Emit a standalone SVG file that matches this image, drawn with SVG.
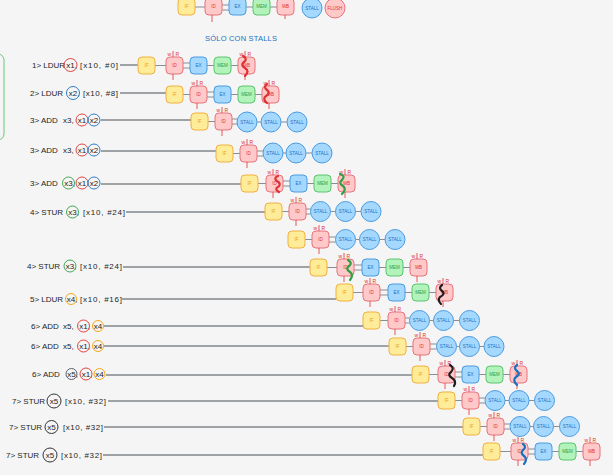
<svg xmlns="http://www.w3.org/2000/svg" width="613" height="475" viewBox="0 0 613 475">
<style>
.bg{fill:#f5f5f5}
.if{fill:#ffec99;stroke:#f2b040;stroke-width:1}
.id{fill:#ffc9c9;stroke:#e8737b;stroke-width:1}
.ex{fill:#a5d8ff;stroke:#4a9be0;stroke-width:1}
.mem{fill:#b2f2bb;stroke:#5cc46e;stroke-width:1}
.st{fill:#a5d8ff;stroke:#4a9be0;stroke-width:1}
.fl{fill:#ffc9c9;stroke:#e8737b;stroke-width:1}
.t{font-family:"Liberation Sans",Arial,sans-serif;font-size:4.5px;text-anchor:middle}
.ti{fill:#e8a020}.tr{fill:#e03131}.tb{fill:#1971c2}.tg{fill:#2f9e44}
.lab{font-family:"Liberation Sans",Arial,sans-serif;font-size:8px;fill:#1e1e1e}
.wr{font-family:"Liberation Sans",Arial,sans-serif;font-size:5px;fill:#e03131}
.tick{stroke:#e03131;stroke-width:0.8}
.c{stroke:#868e96;stroke-width:1;fill:none}
.ll{stroke:#495057;stroke-width:1}
.sq{fill:none;stroke-width:2.2;stroke-linecap:round;stroke-linejoin:round}
.rc{fill:none;stroke-width:0.9}
.title{font-family:"Liberation Sans",Arial,sans-serif;font-size:7.5px;fill:#1971c2}
</style>
<rect class="bg" x="0" y="0" width="613" height="475"/>
<rect x="-20" y="54" width="24" height="86" rx="6" fill="none" stroke="#69c77a" stroke-width="1"/>

<g id="connectors">
<!-- legend -->
<line class="c" x1="195" y1="7" x2="205" y2="7"/>
<line class="c" x1="222" y1="5" x2="229" y2="5"/><line class="c" x1="222" y1="10" x2="229" y2="10"/>
<line class="c" x1="246" y1="7" x2="253" y2="7"/>
<line class="c" x1="270" y1="7" x2="277" y2="7"/>
<!-- row1 -->
<line class="ll" x1="120" y1="65" x2="138" y2="65"/>
<line class="c" x1="155" y1="65.5" x2="166" y2="65.5"/>
<line class="c" x1="183" y1="63" x2="190" y2="63"/><line class="c" x1="183" y1="68" x2="190" y2="68"/>
<line class="c" x1="207" y1="65.5" x2="214" y2="65.5"/>
<line class="c" x1="231" y1="65.5" x2="238" y2="65.5"/>
<!-- row2 -->
<line class="ll" x1="120" y1="93" x2="166" y2="93"/>
<line class="c" x1="183" y1="94.5" x2="190" y2="94.5"/>
<line class="c" x1="207" y1="92" x2="214" y2="92"/><line class="c" x1="207" y1="97" x2="214" y2="97"/>
<line class="c" x1="231" y1="94.5" x2="238" y2="94.5"/>
<line class="c" x1="255" y1="94.5" x2="262" y2="94.5"/>
<!-- row3 -->
<line class="ll" x1="101" y1="120" x2="191" y2="120"/>
<line class="c" x1="208" y1="121.5" x2="215" y2="121.5"/>
<line class="c" x1="232" y1="119" x2="237" y2="119"/><line class="c" x1="232" y1="124" x2="237" y2="124"/>
<line class="c" x1="257" y1="122" x2="261" y2="122"/>
<line class="c" x1="281" y1="122" x2="287" y2="122"/>
<!-- row4 -->
<line class="ll" x1="101" y1="151" x2="216" y2="151"/>
<line class="c" x1="233" y1="153.5" x2="240" y2="153.5"/>
<line class="c" x1="257" y1="151" x2="263" y2="151"/><line class="c" x1="257" y1="156" x2="263" y2="156"/>
<line class="c" x1="283" y1="153" x2="286" y2="153"/>
<line class="c" x1="306" y1="153" x2="312" y2="153"/>
<!-- row5 -->
<line class="ll" x1="101" y1="184" x2="241" y2="184"/>
<line class="c" x1="258" y1="183.5" x2="266" y2="183.5"/>
<line class="c" x1="283" y1="181" x2="290" y2="181"/><line class="c" x1="283" y1="186" x2="290" y2="186"/>
<line class="c" x1="307" y1="183.5" x2="314" y2="183.5"/>
<line class="c" x1="331" y1="183.5" x2="338" y2="183.5"/>
<!-- row6 -->
<line class="ll" x1="126" y1="212" x2="265" y2="212"/>
<line class="c" x1="282" y1="211.5" x2="289" y2="211.5"/>
<line class="c" x1="306" y1="209" x2="310.5" y2="209"/><line class="c" x1="306" y1="214" x2="310.5" y2="214"/>
<line class="c" x1="330.5" y1="211.5" x2="335.5" y2="211.5"/>
<line class="c" x1="355.5" y1="211.5" x2="361" y2="211.5"/>
<!-- row7 -->
<line class="c" x1="305" y1="239.5" x2="312" y2="239.5"/>
<line class="c" x1="329" y1="237" x2="335.5" y2="237"/><line class="c" x1="329" y1="242" x2="335.5" y2="242"/>
<line class="c" x1="355.5" y1="239.5" x2="359.5" y2="239.5"/>
<line class="c" x1="379.5" y1="239.5" x2="385" y2="239.5"/>
<!-- row8 -->
<line class="ll" x1="123" y1="267" x2="310" y2="267"/>
<line class="c" x1="327" y1="267.5" x2="337" y2="267.5"/>
<line class="c" x1="354" y1="265" x2="362" y2="265"/><line class="c" x1="354" y1="270" x2="362" y2="270"/>
<line class="c" x1="379" y1="267.5" x2="386" y2="267.5"/>
<line class="c" x1="403" y1="267.5" x2="410" y2="267.5"/>
<!-- row9 -->
<line class="ll" x1="122" y1="299" x2="336" y2="299"/>
<line class="c" x1="353" y1="292.5" x2="363" y2="292.5"/>
<line class="c" x1="380" y1="290" x2="388" y2="290"/><line class="c" x1="380" y1="295" x2="388" y2="295"/>
<line class="c" x1="405" y1="292.5" x2="412" y2="292.5"/>
<line class="c" x1="429" y1="292.5" x2="436" y2="292.5"/>
<!-- row10 -->
<line class="ll" x1="104" y1="326" x2="363" y2="326"/>
<line class="c" x1="380" y1="320.5" x2="388" y2="320.5"/>
<line class="c" x1="405" y1="318" x2="409.5" y2="318"/><line class="c" x1="405" y1="323" x2="409.5" y2="323"/>
<line class="c" x1="429.5" y1="320.5" x2="433.5" y2="320.5"/>
<line class="c" x1="453.5" y1="320.5" x2="459.5" y2="320.5"/>
<!-- row11 -->
<line class="ll" x1="104" y1="346" x2="389" y2="346"/>
<line class="c" x1="406" y1="346.5" x2="413" y2="346.5"/>
<line class="c" x1="430" y1="344" x2="436.5" y2="344"/><line class="c" x1="430" y1="349" x2="436.5" y2="349"/>
<line class="c" x1="456.5" y1="346.5" x2="459.5" y2="346.5"/>
<line class="c" x1="479.5" y1="346.5" x2="484" y2="346.5"/>
<!-- row12 -->
<line class="ll" x1="106" y1="375" x2="412" y2="375"/>
<line class="c" x1="429" y1="374.5" x2="438" y2="374.5"/>
<line class="c" x1="455" y1="372" x2="462" y2="372"/><line class="c" x1="455" y1="377" x2="462" y2="377"/>
<line class="c" x1="479" y1="374.5" x2="486" y2="374.5"/>
<line class="c" x1="503" y1="374.5" x2="510" y2="374.5"/>
<!-- row13 -->
<line class="ll" x1="108" y1="401" x2="438" y2="401"/>
<line class="c" x1="455" y1="400.5" x2="462" y2="400.5"/>
<line class="c" x1="479" y1="398" x2="485" y2="398"/><line class="c" x1="479" y1="403" x2="485" y2="403"/>
<line class="c" x1="505" y1="400.5" x2="509" y2="400.5"/>
<line class="c" x1="529" y1="400.5" x2="534.5" y2="400.5"/>
<!-- row14 -->
<line class="ll" x1="104" y1="427" x2="463" y2="427"/>
<line class="c" x1="480" y1="426.5" x2="487" y2="426.5"/>
<line class="c" x1="504" y1="424" x2="510" y2="424"/><line class="c" x1="504" y1="429" x2="510" y2="429"/>
<line class="c" x1="530" y1="426.5" x2="533.5" y2="426.5"/>
<line class="c" x1="553.5" y1="426.5" x2="559.5" y2="426.5"/>
<!-- row15 -->
<line class="ll" x1="103" y1="455" x2="483" y2="455"/>
<line class="c" x1="500" y1="451.5" x2="511" y2="451.5"/>
<line class="c" x1="528" y1="449" x2="535" y2="449"/><line class="c" x1="528" y1="454" x2="535" y2="454"/>
<line class="c" x1="552" y1="451.5" x2="559" y2="451.5"/>
<line class="c" x1="576" y1="451.5" x2="583" y2="451.5"/>
</g>

<!-- legend -->
<g id="legend-if"><rect class="if" x="178" y="-2" width="17" height="17" rx="4"/><text class="t ti" x="186.5" y="8">IF</text></g>
<g id="legend-id"><rect class="id" x="205" y="-2" width="17" height="17" rx="4"/><text class="t tr" x="213.5" y="8">ID</text><line class="tick" x1="212" y1="15" x2="212" y2="22"/></g>
<g id="legend-ex"><rect class="ex" x="229" y="-2" width="17" height="17" rx="4"/><text class="t tb" x="237.5" y="8">EX</text></g>
<g id="legend-mem"><rect class="mem" x="253" y="-2" width="17" height="17" rx="4"/><text class="t tg" x="261.5" y="8">MEM</text></g>
<g id="legend-wb"><rect class="id" x="277" y="-2" width="17" height="17" rx="4"/><text class="t tr" x="285.5" y="8">WB</text><line class="tick" x1="285" y1="15" x2="285" y2="19"/></g>
<g id="legend-stall"><circle class="st" cx="312" cy="8" r="10"/><text class="t tb" x="312" y="9.5">STALL</text></g>
<g id="legend-flush"><circle class="fl" cx="335" cy="8" r="10"/><text class="t tr" x="335" y="9.5">FLUSH</text></g>
<text class="title" x="205" y="41" textLength="72" lengthAdjust="spacing">SÓLO CON STALLS</text>

<!-- labels -->
<g id="label-1"><text class="lab" x="32" y="68">1&gt; LDUR</text><text class="lab" x="66.3" y="68">x1,</text><text class="lab" x="80" y="68" textLength="38" lengthAdjust="spacing">[x10, #0]</text><circle class="rc" stroke="#e03131" cx="70.5" cy="65" r="6.5"/></g>
<g id="label-2"><text class="lab" x="30" y="96">2&gt; LDUR</text><text class="lab" x="68.8" y="96">x2,</text><text class="lab" x="83" y="96" textLength="35" lengthAdjust="spacing">[x10, #8]</text><circle class="rc" stroke="#1971c2" cx="73" cy="93" r="6.5"/></g>
<g id="label-3"><text class="lab" x="30" y="123">3&gt; ADD</text><text class="lab" x="63" y="123">x3,</text><text class="lab" x="77.8" y="123">x1</text><text class="lab" x="89.8" y="123">x2</text><circle class="rc" stroke="#e03131" cx="82" cy="120" r="6"/><circle class="rc" stroke="#1971c2" cx="94" cy="120" r="6"/></g>
<g id="label-4"><text class="lab" x="30" y="153">3&gt; ADD</text><text class="lab" x="63" y="153">x3,</text><text class="lab" x="77.8" y="153">x1</text><text class="lab" x="89.8" y="153">x2</text><circle class="rc" stroke="#e03131" cx="82" cy="150" r="6"/><circle class="rc" stroke="#1971c2" cx="94" cy="150" r="6"/></g>
<g id="label-5"><text class="lab" x="30" y="186">3&gt; ADD</text><text class="lab" x="64.3" y="186">x3,</text><text class="lab" x="77.8" y="186">x1</text><text class="lab" x="89.8" y="186">x2</text><circle class="rc" stroke="#2f9e44" cx="68.5" cy="183" r="6"/><circle class="rc" stroke="#e03131" cx="82" cy="183" r="6"/><circle class="rc" stroke="#1971c2" cx="94" cy="183" r="6"/></g>
<g id="label-6"><text class="lab" x="30" y="215">4&gt; STUR</text><text class="lab" x="68.3" y="215">x3,</text><text class="lab" x="83" y="215" textLength="42" lengthAdjust="spacing">[x10, #24]</text><circle class="rc" stroke="#2f9e44" cx="72.5" cy="212" r="6"/></g>
<g id="label-8"><text class="lab" x="27" y="269">4&gt; STUR</text><text class="lab" x="65.8" y="269">x3,</text><text class="lab" x="80" y="269" textLength="42" lengthAdjust="spacing">[x10, #24]</text><circle class="rc" stroke="#2f9e44" cx="70" cy="266" r="6"/></g>
<g id="label-9"><text class="lab" x="30" y="302">5&gt; LDUR</text><text class="lab" x="66.8" y="302">x4,</text><text class="lab" x="80" y="302" textLength="42" lengthAdjust="spacing">[x10, #16]</text><circle class="rc" stroke="#f59f00" cx="71" cy="299" r="5.5"/></g>
<g id="label-10"><text class="lab" x="31" y="329">6&gt; ADD</text><text class="lab" x="63" y="329">x5,</text><text class="lab" x="79.3" y="329">x1,</text><text class="lab" x="93.8" y="329">x4</text><circle class="rc" stroke="#e03131" cx="83.5" cy="326" r="6"/><circle class="rc" stroke="#f59f00" cx="98" cy="326" r="5.5"/></g>
<g id="label-11"><text class="lab" x="31" y="349">6&gt; ADD</text><text class="lab" x="63" y="349">x5,</text><text class="lab" x="79.3" y="349">x1,</text><text class="lab" x="93.8" y="349">x4</text><circle class="rc" stroke="#e03131" cx="83.5" cy="346" r="6"/><circle class="rc" stroke="#f59f00" cx="98" cy="346" r="5.5"/></g>
<g id="label-12"><text class="lab" x="32" y="377">6&gt; ADD</text><text class="lab" x="67.3" y="377">x5,</text><text class="lab" x="81.8" y="377">x1,</text><text class="lab" x="95.3" y="377">x4</text><circle class="rc" stroke="#495057" cx="71.5" cy="374" r="5.5"/><circle class="rc" stroke="#e03131" cx="86" cy="374" r="6"/><circle class="rc" stroke="#f59f00" cx="99.5" cy="374" r="5.5"/></g>
<g id="label-13"><text class="lab" x="12" y="404">7&gt; STUR</text><text class="lab" x="49.8" y="404">x5</text><text class="lab" x="65" y="404" textLength="41" lengthAdjust="spacing">[x10, #32]</text><circle class="rc" stroke="#1e1e1e" cx="54" cy="401" r="7"/></g>
<g id="label-14"><text class="lab" x="9" y="430">7&gt; STUR</text><text class="lab" x="47.3" y="430">x5</text><text class="lab" x="63" y="430" textLength="40" lengthAdjust="spacing">[x10, #32]</text><circle class="rc" stroke="#1e1e1e" cx="51.5" cy="427" r="6.5"/></g>
<g id="label-15"><text class="lab" x="6" y="458">7&gt; STUR</text><text class="lab" x="45.8" y="458">x5</text><text class="lab" x="61" y="458" textLength="41" lengthAdjust="spacing">[x10, #32]</text><circle class="rc" stroke="#1e1e1e" cx="50" cy="455" r="7"/></g>

<!-- row 1 -->
<g id="r1-if"><rect class="if" x="138" y="57" width="17" height="17" rx="4"/><text class="t ti" x="146.5" y="67">IF</text></g>
<g id="r1-id"><rect class="id" x="166" y="57" width="17" height="17" rx="4"/><text class="t tr" x="174.5" y="67">ID</text><line class="tick" x1="173" y1="51" x2="173" y2="57"/><line class="tick" x1="173" y1="74" x2="173" y2="80"/><text class="wr" x="167.5" y="55.5">w</text><text class="wr" x="175.5" y="55.5">R</text></g>
<g id="r1-ex"><rect class="ex" x="190" y="57" width="17" height="17" rx="4"/><text class="t tb" x="198.5" y="67">EX</text></g>
<g id="r1-mem"><rect class="mem" x="214" y="57" width="17" height="17" rx="4"/><text class="t tg" x="222.5" y="67">MEM</text></g>
<g id="r1-wb"><rect class="id" x="238" y="57" width="17" height="17" rx="4"/><text class="t tr" x="246.5" y="67">WB</text><line class="tick" x1="245" y1="51" x2="245" y2="57"/><line class="tick" x1="245" y1="74" x2="245" y2="80"/><text class="wr" x="239.5" y="55.5">w</text><text class="wr" x="247.5" y="55.5">R</text><path class="sq" stroke="#e03131" d="M243,56 q5,3 1,6 q-4,3 1,6 q5,3 0,8"/></g>

<!-- row 2 -->
<g id="r2-if"><rect class="if" x="166" y="86" width="17" height="17" rx="4"/><text class="t ti" x="174.5" y="96">IF</text></g>
<g id="r2-id"><rect class="id" x="190" y="86" width="17" height="17" rx="4"/><text class="t tr" x="198.5" y="96">ID</text><line class="tick" x1="197" y1="80" x2="197" y2="86"/><line class="tick" x1="197" y1="103" x2="197" y2="109"/><text class="wr" x="191.5" y="84.5">w</text><text class="wr" x="199.5" y="84.5">R</text></g>
<g id="r2-ex"><rect class="ex" x="214" y="86" width="17" height="17" rx="4"/><text class="t tb" x="222.5" y="96">EX</text></g>
<g id="r2-mem"><rect class="mem" x="238" y="86" width="17" height="17" rx="4"/><text class="t tg" x="246.5" y="96">MEM</text></g>
<g id="r2-wb"><rect class="id" x="262" y="86" width="17" height="17" rx="4"/><text class="t tr" x="270.5" y="96">WB</text><line class="tick" x1="269" y1="80" x2="269" y2="86"/><line class="tick" x1="269" y1="103" x2="269" y2="109"/><text class="wr" x="263.5" y="84.5">w</text><text class="wr" x="271.5" y="84.5">R</text><path class="sq" stroke="#e03131" d="M267,84 q-4,3 0,6 q4,3 -1,6 q-4,3 1,7"/></g>

<!-- row 3 -->
<g id="r3-if"><rect class="if" x="191" y="113" width="17" height="17" rx="4"/><text class="t ti" x="199.5" y="123">IF</text></g>
<g id="r3-id"><rect class="id" x="215" y="113" width="17" height="17" rx="4"/><text class="t tr" x="223.5" y="123">ID</text><line class="tick" x1="222" y1="107" x2="222" y2="113"/><line class="tick" x1="222" y1="130" x2="222" y2="136"/><text class="wr" x="216.5" y="111.5">w</text><text class="wr" x="224.5" y="111.5">R</text></g>
<g id="r3-s1"><circle class="st" cx="247" cy="122" r="10"/><text class="t tb" x="247" y="123.5">STALL</text></g>
<g id="r3-s2"><circle class="st" cx="271" cy="122" r="10"/><text class="t tb" x="271" y="123.5">STALL</text></g>
<g id="r3-s3"><circle class="st" cx="297" cy="122" r="10"/><text class="t tb" x="297" y="123.5">STALL</text></g>

<!-- row 4 -->
<g id="r4-if"><rect class="if" x="216" y="145" width="17" height="17" rx="4"/><text class="t ti" x="224.5" y="155">IF</text></g>
<g id="r4-id"><rect class="id" x="240" y="145" width="17" height="17" rx="4"/><text class="t tr" x="248.5" y="155">ID</text><line class="tick" x1="247" y1="139" x2="247" y2="145"/><line class="tick" x1="247" y1="162" x2="247" y2="168"/><text class="wr" x="241.5" y="143.5">w</text><text class="wr" x="249.5" y="143.5">R</text></g>
<g id="r4-s1"><circle class="st" cx="273" cy="153" r="10"/><text class="t tb" x="273" y="154.5">STALL</text></g>
<g id="r4-s2"><circle class="st" cx="296" cy="153" r="10"/><text class="t tb" x="296" y="154.5">STALL</text></g>
<g id="r4-s3"><circle class="st" cx="322" cy="153" r="10"/><text class="t tb" x="322" y="154.5">STALL</text></g>

<!-- row 5 -->
<g id="r5-if"><rect class="if" x="241" y="175" width="17" height="17" rx="4"/><text class="t ti" x="249.5" y="185">IF</text></g>
<g id="r5-id"><rect class="id" x="266" y="175" width="17" height="17" rx="4"/><text class="t tr" x="274.5" y="185">ID</text><line class="tick" x1="273" y1="169" x2="273" y2="175"/><line class="tick" x1="273" y1="192" x2="273" y2="198"/><text class="wr" x="267.5" y="173.5">w</text><text class="wr" x="275.5" y="173.5">R</text><path class="sq" stroke="#e03131" d="M278,176 q-5,2 -1,5 q5,3 1,6 q-4,2 1,5"/></g>
<g id="r5-ex"><rect class="ex" x="290" y="175" width="17" height="17" rx="4"/><text class="t tb" x="298.5" y="185">EX</text></g>
<g id="r5-mem"><rect class="mem" x="314" y="175" width="17" height="17" rx="4"/><text class="t tg" x="322.5" y="185">MEM</text></g>
<g id="r5-wb"><rect class="id" x="338" y="175" width="17" height="17" rx="4"/><text class="t tr" x="346.5" y="185">WB</text><line class="tick" x1="345" y1="169" x2="345" y2="175"/><line class="tick" x1="345" y1="192" x2="345" y2="198"/><text class="wr" x="339.5" y="173.5">w</text><text class="wr" x="347.5" y="173.5">R</text><path class="sq" stroke="#2f9e44" d="M340,174 q6,2 2,6 q-4,3 1,6 q4,3 -1,8"/></g>

<!-- row 6 -->
<g id="r6-if"><rect class="if" x="265" y="203" width="17" height="17" rx="4"/><text class="t ti" x="273.5" y="213">IF</text></g>
<g id="r6-id"><rect class="id" x="289" y="203" width="17" height="17" rx="4"/><text class="t tr" x="297.5" y="213">ID</text><line class="tick" x1="296" y1="197" x2="296" y2="203"/><line class="tick" x1="296" y1="220" x2="296" y2="226"/><text class="wr" x="290.5" y="201.5">w</text><text class="wr" x="298.5" y="201.5">R</text></g>
<g id="r6-s1"><circle class="st" cx="320.5" cy="211.5" r="10"/><text class="t tb" x="320.5" y="213">STALL</text></g>
<g id="r6-s2"><circle class="st" cx="345.5" cy="211.5" r="10"/><text class="t tb" x="345.5" y="213">STALL</text></g>
<g id="r6-s3"><circle class="st" cx="371" cy="211.5" r="10"/><text class="t tb" x="371" y="213">STALL</text></g>

<!-- row 7 -->
<g id="r7-if"><rect class="if" x="288" y="231" width="17" height="17" rx="4"/><text class="t ti" x="296.5" y="241">IF</text></g>
<g id="r7-id"><rect class="id" x="312" y="231" width="17" height="17" rx="4"/><text class="t tr" x="320.5" y="241">ID</text><line class="tick" x1="319" y1="225" x2="319" y2="231"/><line class="tick" x1="319" y1="248" x2="319" y2="254"/><text class="wr" x="313.5" y="229.5">w</text><text class="wr" x="321.5" y="229.5">R</text></g>
<g id="r7-s1"><circle class="st" cx="345.5" cy="239.5" r="10"/><text class="t tb" x="345.5" y="241">STALL</text></g>
<g id="r7-s2"><circle class="st" cx="369.5" cy="239.5" r="10"/><text class="t tb" x="369.5" y="241">STALL</text></g>
<g id="r7-s3"><circle class="st" cx="395" cy="239.5" r="10"/><text class="t tb" x="395" y="241">STALL</text></g>

<!-- row 8 -->
<g id="r8-if"><rect class="if" x="310" y="259" width="17" height="17" rx="4"/><text class="t ti" x="318.5" y="269">IF</text></g>
<g id="r8-id"><rect class="id" x="337" y="259" width="17" height="17" rx="4"/><text class="t tr" x="345.5" y="269">ID</text><line class="tick" x1="344" y1="253" x2="344" y2="259"/><line class="tick" x1="344" y1="276" x2="344" y2="282"/><text class="wr" x="338.5" y="257.5">w</text><text class="wr" x="346.5" y="257.5">R</text><path class="sq" stroke="#2f9e44" d="M348,260 q5,3 1,6 q-4,3 1,6 q4,3 0,8"/></g>
<g id="r8-ex"><rect class="ex" x="362" y="259" width="17" height="17" rx="4"/><text class="t tb" x="370.5" y="269">EX</text></g>
<g id="r8-mem"><rect class="mem" x="386" y="259" width="17" height="17" rx="4"/><text class="t tg" x="394.5" y="269">MEM</text></g>
<g id="r8-wb"><rect class="id" x="410" y="259" width="17" height="17" rx="4"/><text class="t tr" x="418.5" y="269">WB</text><line class="tick" x1="417" y1="253" x2="417" y2="259"/><line class="tick" x1="417" y1="276" x2="417" y2="282"/><text class="wr" x="411.5" y="257.5">w</text><text class="wr" x="419.5" y="257.5">R</text></g>

<!-- row 9 -->
<g id="r9-if"><rect class="if" x="336" y="284" width="17" height="17" rx="4"/><text class="t ti" x="344.5" y="294">IF</text></g>
<g id="r9-id"><rect class="id" x="363" y="284" width="17" height="17" rx="4"/><text class="t tr" x="371.5" y="294">ID</text><line class="tick" x1="370" y1="278" x2="370" y2="284"/><line class="tick" x1="370" y1="301" x2="370" y2="307"/><text class="wr" x="364.5" y="282.5">w</text><text class="wr" x="372.5" y="282.5">R</text></g>
<g id="r9-ex"><rect class="ex" x="388" y="284" width="17" height="17" rx="4"/><text class="t tb" x="396.5" y="294">EX</text></g>
<g id="r9-mem"><rect class="mem" x="412" y="284" width="17" height="17" rx="4"/><text class="t tg" x="420.5" y="294">MEM</text></g>
<g id="r9-wb"><rect class="id" x="436" y="284" width="17" height="17" rx="4"/><text class="t tr" x="444.5" y="294">WB</text><line class="tick" x1="443" y1="278" x2="443" y2="284"/><line class="tick" x1="443" y1="301" x2="443" y2="307"/><text class="wr" x="437.5" y="282.5">w</text><text class="wr" x="445.5" y="282.5">R</text><path class="sq" stroke="#1e1e1e" d="M442,285 q-4,3 0,6 q4,3 -2,6 q-3,3 1,7"/></g>

<!-- row 10 -->
<g id="r10-if"><rect class="if" x="363" y="312" width="17" height="17" rx="4"/><text class="t ti" x="371.5" y="322">IF</text></g>
<g id="r10-id"><rect class="id" x="388" y="312" width="17" height="17" rx="4"/><text class="t tr" x="396.5" y="322">ID</text><line class="tick" x1="395" y1="306" x2="395" y2="312"/><line class="tick" x1="395" y1="329" x2="395" y2="335"/><text class="wr" x="389.5" y="310.5">w</text><text class="wr" x="397.5" y="310.5">R</text></g>
<g id="r10-s1"><circle class="st" cx="419.5" cy="320.5" r="10"/><text class="t tb" x="419.5" y="322">STALL</text></g>
<g id="r10-s2"><circle class="st" cx="443.5" cy="320.5" r="10"/><text class="t tb" x="443.5" y="322">STALL</text></g>
<g id="r10-s3"><circle class="st" cx="469.5" cy="320.5" r="10"/><text class="t tb" x="469.5" y="322">STALL</text></g>

<!-- row 11 -->
<g id="r11-if"><rect class="if" x="389" y="338" width="17" height="17" rx="4"/><text class="t ti" x="397.5" y="348">IF</text></g>
<g id="r11-id"><rect class="id" x="413" y="338" width="17" height="17" rx="4"/><text class="t tr" x="421.5" y="348">ID</text><line class="tick" x1="420" y1="332" x2="420" y2="338"/><line class="tick" x1="420" y1="355" x2="420" y2="361"/><text class="wr" x="414.5" y="336.5">w</text><text class="wr" x="422.5" y="336.5">R</text></g>
<g id="r11-s1"><circle class="st" cx="446.5" cy="346.5" r="10"/><text class="t tb" x="446.5" y="348">STALL</text></g>
<g id="r11-s2"><circle class="st" cx="469.5" cy="346.5" r="10"/><text class="t tb" x="469.5" y="348">STALL</text></g>
<g id="r11-s3"><circle class="st" cx="494" cy="346.5" r="10"/><text class="t tb" x="494" y="348">STALL</text></g>

<!-- row 12 -->
<g id="r12-if"><rect class="if" x="412" y="366" width="17" height="17" rx="4"/><text class="t ti" x="420.5" y="376">IF</text></g>
<g id="r12-id"><rect class="id" x="438" y="366" width="17" height="17" rx="4"/><text class="t tr" x="446.5" y="376">ID</text><line class="tick" x1="445" y1="360" x2="445" y2="366"/><line class="tick" x1="445" y1="383" x2="445" y2="389"/><text class="wr" x="439.5" y="364.5">w</text><text class="wr" x="447.5" y="364.5">R</text><path class="sq" stroke="#1e1e1e" d="M450,365 q5,3 1,7 q-4,3 1,6 q5,3 2,8"/></g>
<g id="r12-ex"><rect class="ex" x="462" y="366" width="17" height="17" rx="4"/><text class="t tb" x="470.5" y="376">EX</text></g>
<g id="r12-mem"><rect class="mem" x="486" y="366" width="17" height="17" rx="4"/><text class="t tg" x="494.5" y="376">MEM</text></g>
<g id="r12-wb"><rect class="id" x="510" y="366" width="17" height="17" rx="4"/><text class="t tr" x="518.5" y="376">WB</text><line class="tick" x1="517" y1="360" x2="517" y2="366"/><line class="tick" x1="517" y1="383" x2="517" y2="389"/><text class="wr" x="511.5" y="364.5">w</text><text class="wr" x="519.5" y="364.5">R</text><path class="sq" stroke="#1971c2" d="M517,365 q-4,3 0,6 q4,3 -1,6 q-4,3 1,8"/></g>

<!-- row 13 -->
<g id="r13-if"><rect class="if" x="438" y="392" width="17" height="17" rx="4"/><text class="t ti" x="446.5" y="402">IF</text></g>
<g id="r13-id"><rect class="id" x="462" y="392" width="17" height="17" rx="4"/><text class="t tr" x="470.5" y="402">ID</text><line class="tick" x1="469" y1="386" x2="469" y2="392"/><line class="tick" x1="469" y1="409" x2="469" y2="415"/><text class="wr" x="463.5" y="390.5">w</text><text class="wr" x="471.5" y="390.5">R</text></g>
<g id="r13-s1"><circle class="st" cx="495" cy="400.5" r="10"/><text class="t tb" x="495" y="402">STALL</text></g>
<g id="r13-s2"><circle class="st" cx="519" cy="400.5" r="10"/><text class="t tb" x="519" y="402">STALL</text></g>
<g id="r13-s3"><circle class="st" cx="544.5" cy="400.5" r="10"/><text class="t tb" x="544.5" y="402">STALL</text></g>

<!-- row 14 -->
<g id="r14-if"><rect class="if" x="463" y="418" width="17" height="17" rx="4"/><text class="t ti" x="471.5" y="428">IF</text></g>
<g id="r14-id"><rect class="id" x="487" y="418" width="17" height="17" rx="4"/><text class="t tr" x="495.5" y="428">ID</text><line class="tick" x1="494" y1="412" x2="494" y2="418"/><line class="tick" x1="494" y1="435" x2="494" y2="441"/><text class="wr" x="488.5" y="416.5">w</text><text class="wr" x="496.5" y="416.5">R</text></g>
<g id="r14-s1"><circle class="st" cx="520" cy="426.5" r="10"/><text class="t tb" x="520" y="428">STALL</text></g>
<g id="r14-s2"><circle class="st" cx="543.5" cy="426.5" r="10"/><text class="t tb" x="543.5" y="428">STALL</text></g>
<g id="r14-s3"><circle class="st" cx="569.5" cy="426.5" r="10"/><text class="t tb" x="569.5" y="428">STALL</text></g>

<!-- row 15 -->
<g id="r15-if"><rect class="if" x="483" y="443" width="17" height="17" rx="4"/><text class="t ti" x="491.5" y="453">IF</text></g>
<g id="r15-id"><rect class="id" x="511" y="443" width="17" height="17" rx="4"/><text class="t tr" x="519.5" y="453">ID</text><line class="tick" x1="518" y1="437" x2="518" y2="443"/><line class="tick" x1="518" y1="460" x2="518" y2="466"/><text class="wr" x="512.5" y="441.5">w</text><text class="wr" x="520.5" y="441.5">R</text><path class="sq" stroke="#1971c2" d="M523,444 q4,3 0,6 q-3,3 1,6 q4,3 0,8"/></g>
<g id="r15-ex"><rect class="ex" x="535" y="443" width="17" height="17" rx="4"/><text class="t tb" x="543.5" y="453">EX</text></g>
<g id="r15-mem"><rect class="mem" x="559" y="443" width="17" height="17" rx="4"/><text class="t tg" x="567.5" y="453">MEM</text></g>
<g id="r15-wb"><rect class="id" x="583" y="443" width="17" height="17" rx="4"/><text class="t tr" x="591.5" y="453">WB</text><line class="tick" x1="590" y1="437" x2="590" y2="443"/><line class="tick" x1="590" y1="460" x2="590" y2="466"/><text class="wr" x="584.5" y="441.5">w</text><text class="wr" x="592.5" y="441.5">R</text></g>
</svg>
